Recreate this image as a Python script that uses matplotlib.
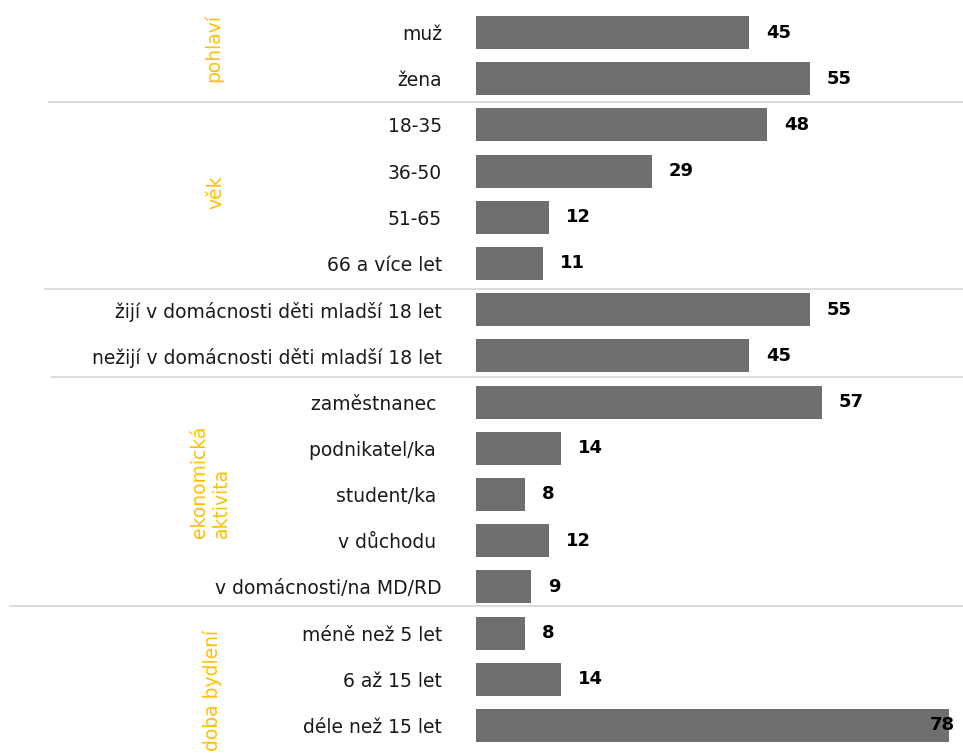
import matplotlib.pyplot as plt

plt.rcParams['font.family'] = ['DejaVu Sans']

# data
labels = ['muž', 'žena',
          '18-35', '36-50', '51-65', '66 a více let',
          'žijí v domácnosti děti mladší 18 let', 'nežijí v domácnosti děti mladší 18 let',
          'zaměstnanec ', 'podnikatel/ka ', 'student/ka ', 'v důchodu ', 'v domácnosti/na MD/RD',
          'méně než 5 let', '6 až 15 let', 'déle než 15 let']
values = [45, 55, 48, 29, 12, 11, 55, 45, 57, 14, 8, 12, 9, 8, 14, 78]
groups = ['pohlaví', 'věk', 'ekonomická\naktivita', 'doba bydlení']
group_pos = [(213, 48), (216, 192), (210, 482), (212, 690)]   # pixel centres
sep_rows = [1.5, 5.55, 7.45, 12.41]
sep_left = [49, 45, 52, 10]

W, H = 963, 753
x0 = 476           # pixel where bars start
ppu = 6.07         # pixels per unit
row0 = 32.5
rowh = 46.2

fig = plt.figure(figsize=(W / 100, H / 100), dpi=100)
ax = fig.add_axes([x0 / W, 0, 1 - x0 / W, 1])

y = list(range(len(values)))
ax.barh(y, values, height=0.715, color='#6d6f71')

ax.set_xlim(0, (W - x0) / ppu)
ax.set_ylim((H - row0) / rowh, -row0 / rowh)

ax.set_yticks(y)
ax.set_yticklabels(labels, fontsize=13.5, color='#1a1a1a')
ax.tick_params(axis='y', length=0, pad=24.5)
ax.set_xticks([])
for s in ax.spines.values():
    s.set_visible(False)

# value labels
for i, v in enumerate(values):
    ax.text(min(v + 2.8, 74.8), i, str(v), va='center', ha='left',
            fontsize=13, fontweight='bold', color='black')

# separator lines
axw = W - x0
for r, xl in zip(sep_rows, sep_left):
    ax.axhline(r, xmin=(xl - x0) / axw, xmax=1, color='#d9d9d9', lw=1.3,
               clip_on=False, zorder=0)

# group labels
for g, (px, py) in zip(groups, group_pos):
    fig.text(px / W, 1 - py / H, g, rotation=90, ha='center', va='center',
             fontsize=13.5, color='#FFC000', multialignment='left')

fig.savefig('out.png', dpi=100)
